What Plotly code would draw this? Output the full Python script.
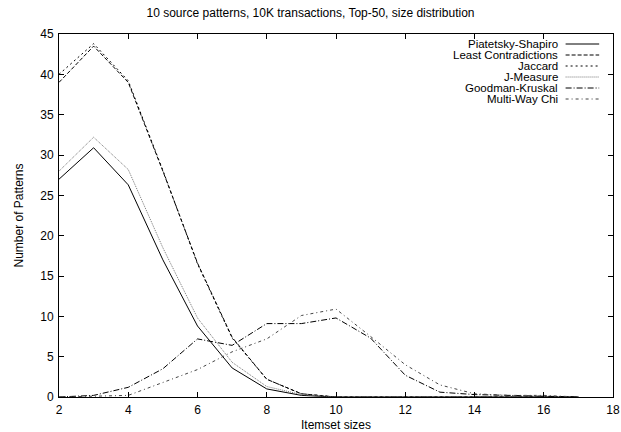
import plotly.graph_objects as go

sizes = list(range(2, 18))
piatetsky = [27.0, 30.9, 26.3, 17.0, 8.8, 3.6, 1.0, 0.2, 0, 0, 0, 0, 0, 0, 0, 0]
least_contra = [39.0, 43.5, 39.0, 28.0, 16.6, 7.4, 2.2, 0.4, 0, 0, 0, 0, 0, 0, 0, 0]
jaccard = [40.0, 43.8, 39.2, 28.1, 16.5, 7.3, 2.2, 0.4, 0, 0, 0, 0, 0, 0, 0, 0]
jmeasure = [28.0, 32.2, 28.2, 18.5, 9.8, 4.3, 1.3, 0.3, 0, 0, 0, 0, 0, 0, 0, 0]
goodman = [0.0, 0.2, 1.2, 3.5, 7.2, 6.4, 9.1, 9.1, 9.8, 7.3, 2.7, 0.6, 0.3, 0.2, 0.1, 0.0]
multiway = [0.0, 0.1, 0.2, 1.8, 3.4, 5.6, 7.2, 10.1, 10.9, 7.5, 4.0, 1.5, 0.4, 0.2, 0.2, 0.0]

names = ["Piatetsky-Shapiro", "Least Contradictions", "Jaccard", "J-Measure",
         "Goodman-Kruskal", "Multi-Way Chi"]
series = [piatetsky, least_contra, jaccard, jmeasure, goodman, multiway]
colors = ["#000000", "#000000", "#000000", "#777777", "#000000", "#444444"]
dashes = ["solid", "4px,2px", "2px,3px", "1px,1px", "6px,2px,1px,2px", "3px,3px,1px,3px"]

FONT = "Liberation Sans, Arial, Helvetica, sans-serif"

fig = go.Figure()
for n, s, c, d in zip(names, series, colors, dashes):
    fig.add_trace(go.Scatter(x=sizes, y=s, mode="lines", name=n,
                             line=dict(color=c, width=1, dash=d), showlegend=False))

# gnuplot-style key: text right-aligned, line sample to its right
L, R, T, B = 59, 620, 34, 397
def px(x): return (x - L) / (R - L)
def py(y): return (B - y) / (B - T)
for i, (n, c, d) in enumerate(zip(names, colors, dashes)):
    yy = 44 + i * 11
    fig.add_annotation(x=px(565), y=py(yy), xref="paper", yref="paper", text=n,
                       showarrow=False, xanchor="right", yanchor="middle", borderpad=0,
                       font=dict(size=11.5, color="black", family=FONT))
    fig.add_shape(type="line", xref="paper", yref="paper", x0=px(572), x1=px(606),
                  y0=py(yy), y1=py(yy), line=dict(color=c, width=1, dash=d))

axis_common = dict(showline=True, linecolor="black", linewidth=1, mirror="ticks",
                   ticks="inside", ticklen=5, tickcolor="black", showgrid=False,
                   zeroline=False, tickfont=dict(size=12, color="black", family=FONT),
                   ticklabeloverflow="allow")
fig.update_xaxes(range=[2, 18], tickvals=list(range(2, 19, 2)), ticklabelstandoff=2,
                 title=dict(text="Itemset sizes", font=dict(size=12, family=FONT), standoff=4),
                 **axis_common)
fig.update_yaxes(range=[0, 45], tickvals=list(range(0, 46, 5)), ticklabelstandoff=2,
                 title=dict(text="Number of Patterns", font=dict(size=12, family=FONT), standoff=14),
                 **axis_common)

fig.update_layout(
    width=621, height=432,
    margin=dict(l=L, r=621 - R, t=T, b=432 - B),
    paper_bgcolor="white", plot_bgcolor="white",
    font=dict(family=FONT, size=12, color="black"),
    title=dict(text="10 source patterns, 10K transactions, Top-50, size distribution",
               x=0.5, xanchor="center", y=1 - 13 / 432, yanchor="middle",
               font=dict(size=12, family=FONT)),
)
fig.write_html("out.html")
